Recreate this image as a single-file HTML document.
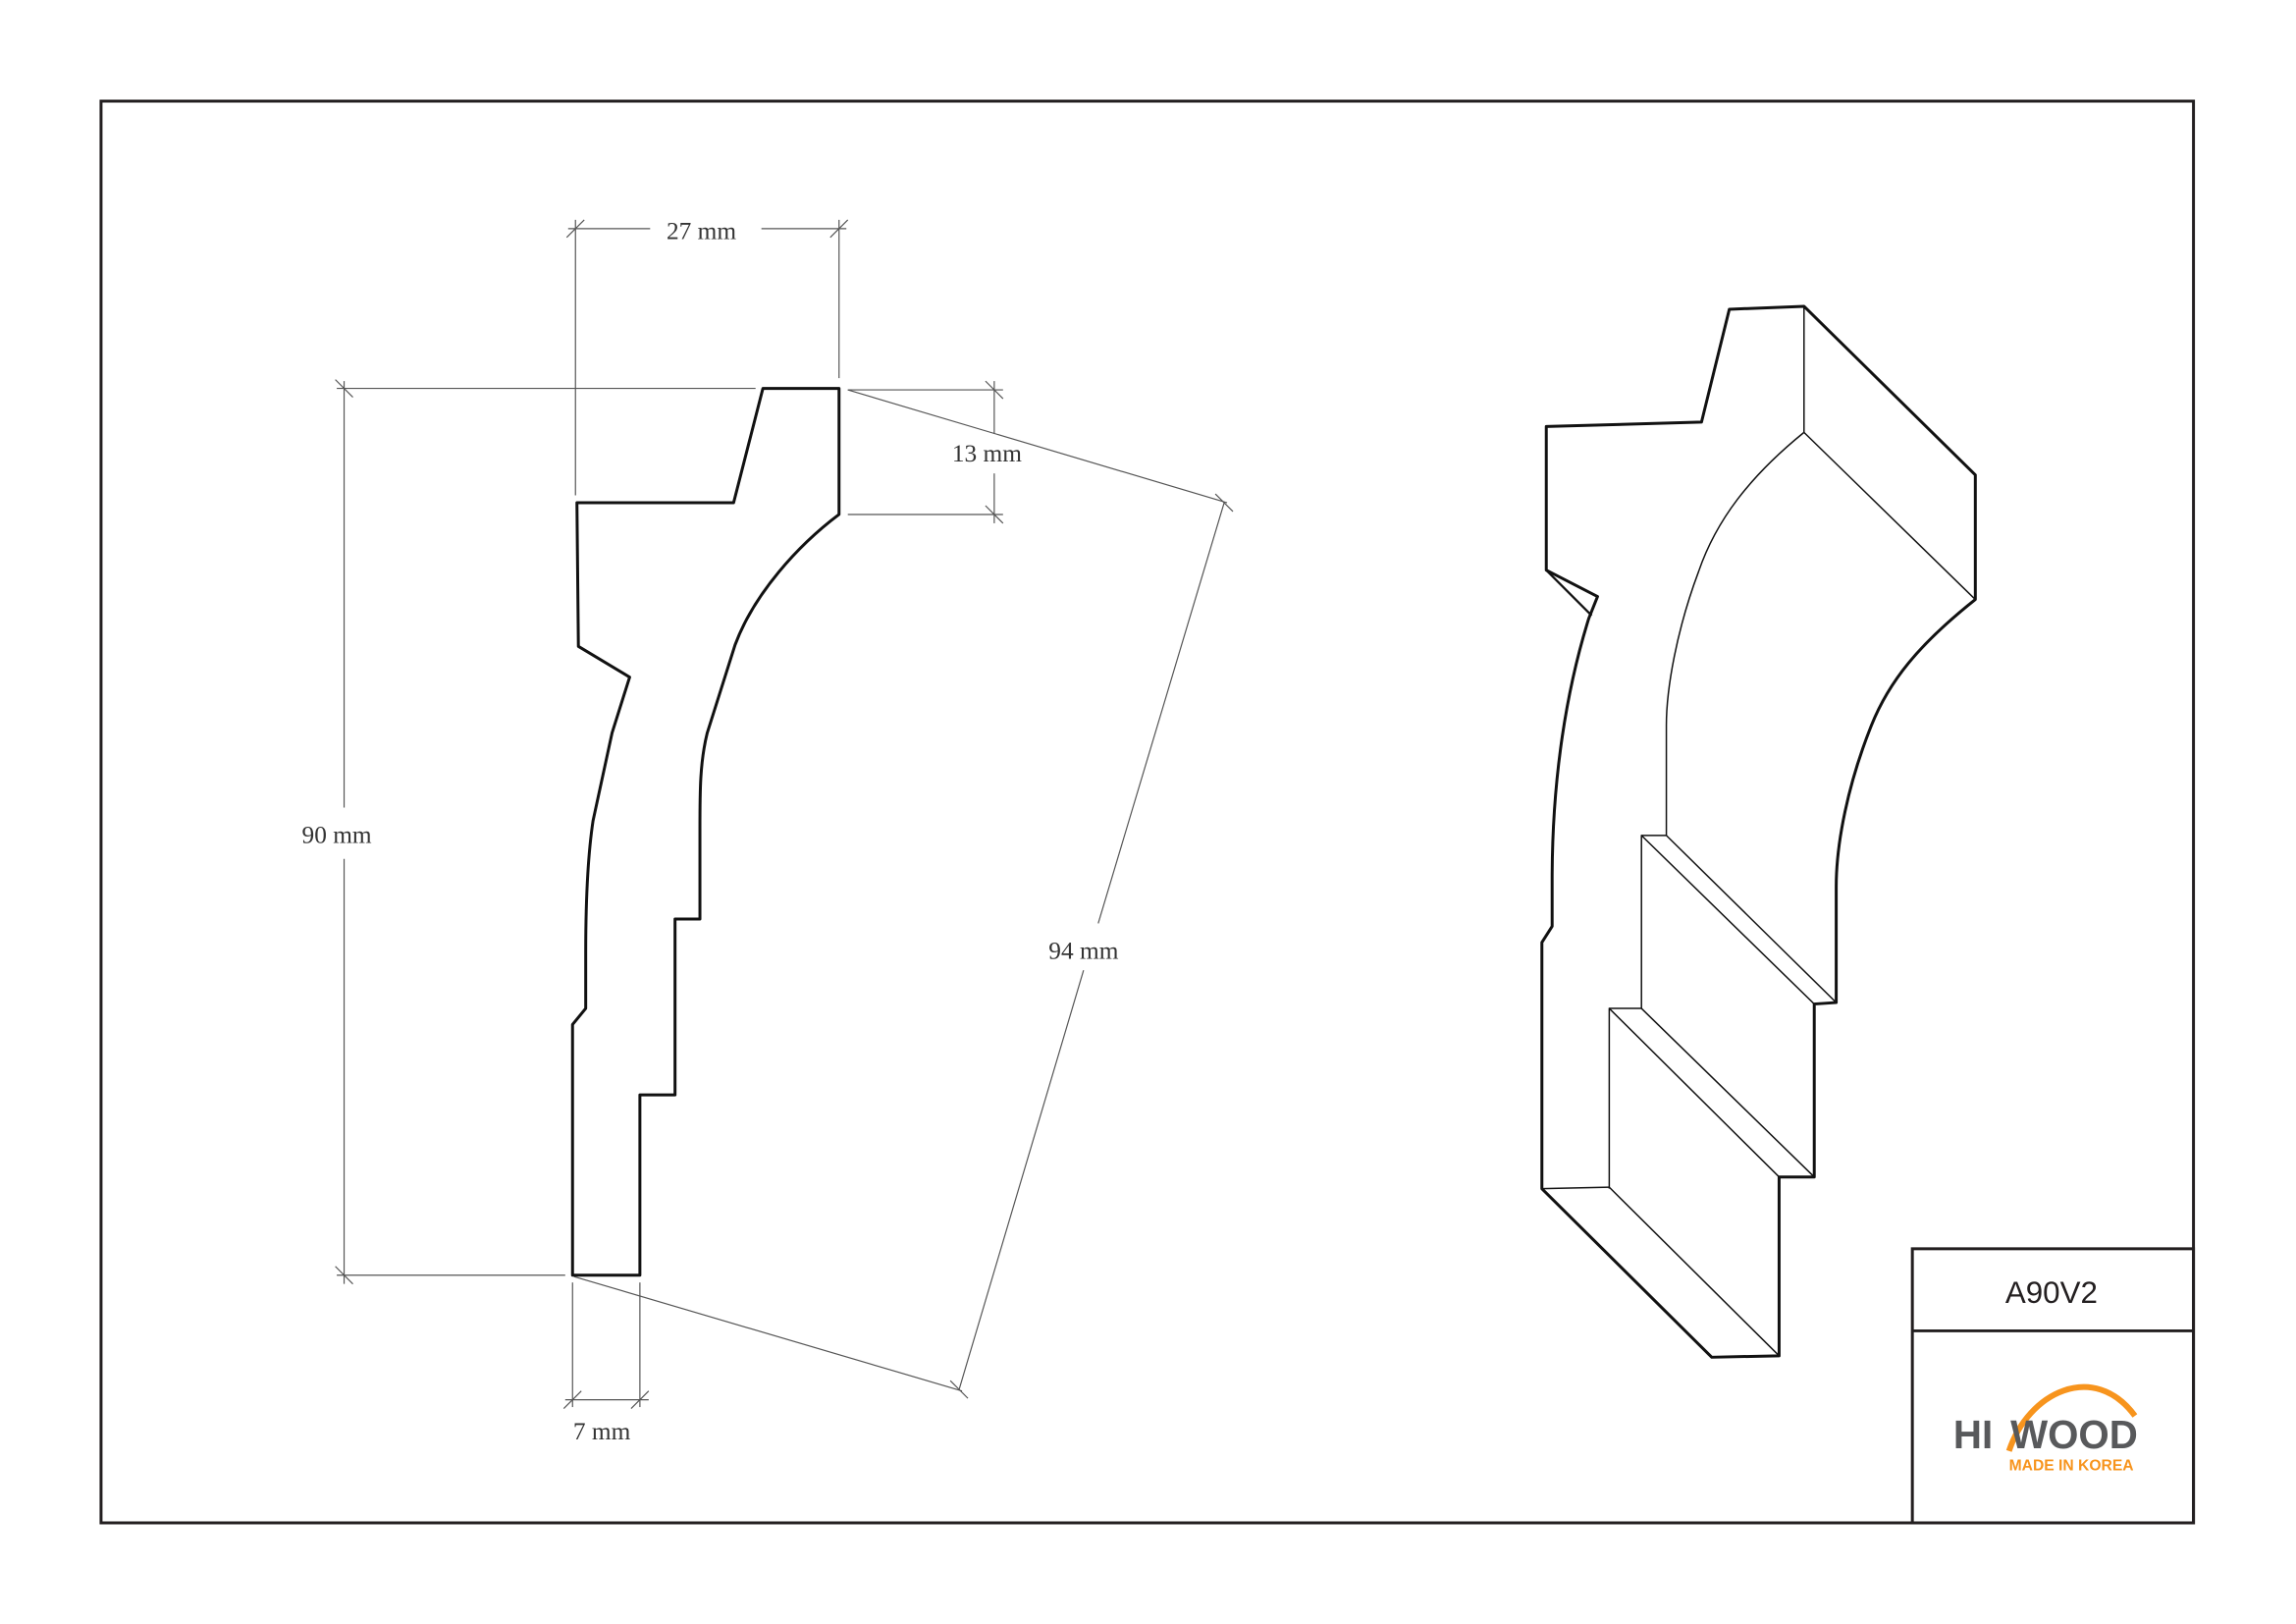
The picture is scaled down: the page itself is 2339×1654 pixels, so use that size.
<!DOCTYPE html>
<html><head><style>html,body{margin:0;padding:0;background:#fff}svg{display:block}</style></head>
<body>
<svg width="2339" height="1654" viewBox="0 0 1568 1108" preserveAspectRatio="none" xmlns="http://www.w3.org/2000/svg">
<rect x="0" y="0" width="1568" height="1108" fill="#fff"/>
<rect x="69" y="69" width="1429" height="970" fill="none" stroke="#231f20" stroke-width="2"/>
<!-- title block -->
<rect x="1306" y="852" width="192" height="187" fill="none" stroke="#231f20" stroke-width="2"/>
<line x1="1306" y1="908" x2="1498" y2="908" stroke="#231f20" stroke-width="2"/>
<text x="1401" y="889" font-family="Liberation Sans, sans-serif" font-size="21" fill="#231f20" text-anchor="middle">A90V2</text>
<path d="M1372,990 C1385,950 1430,928 1458,966" fill="none" stroke="#f7941d" stroke-width="4"/>
<text x="1334" y="988" font-family="Liberation Sans, sans-serif" font-weight="bold" font-size="27" fill="#58595b">HI</text>
<text x="1373" y="988" font-family="Liberation Sans, sans-serif" font-weight="bold" font-size="27" fill="#58595b">WOOD</text>
<text x="1372" y="1003" font-family="Liberation Sans, sans-serif" font-weight="bold" font-size="10.5" fill="#f7941d">MADE IN KOREA</text>

<!-- dimension lines -->
<g stroke="#555" stroke-width="0.8" fill="none">
<line x1="388" y1="156" x2="444" y2="156"/><line x1="520" y1="156" x2="578" y2="156"/>
<line x1="393" y1="150" x2="393" y2="338"/><line x1="573" y1="150" x2="573" y2="258"/>
<line x1="235" y1="260" x2="235" y2="551"/><line x1="235" y1="586" x2="235" y2="876"/>
<line x1="230" y1="265" x2="516" y2="265"/><line x1="230" y1="870" x2="386" y2="870"/>
<line x1="579" y1="266" x2="685" y2="266"/><line x1="579" y1="351" x2="685" y2="351"/>
<line x1="679" y1="260" x2="679" y2="296"/><line x1="679" y1="323" x2="679" y2="357"/>
<line x1="579" y1="266" x2="838" y2="343"/><line x1="392" y1="871" x2="657" y2="949"/>
<line x1="836" y1="343" x2="750" y2="630"/><line x1="740" y1="662" x2="655" y2="948"/>
<line x1="391" y1="875" x2="391" y2="960"/><line x1="437" y1="875" x2="437" y2="960"/>
<line x1="386" y1="955" x2="443" y2="955"/>
<!-- ticks -->
<line x1="387" y1="162" x2="399" y2="150"/><line x1="567" y1="162" x2="579" y2="150"/>
<line x1="229" y1="259" x2="241" y2="271"/><line x1="229" y1="864" x2="241" y2="876"/>
<line x1="673" y1="260" x2="685" y2="272"/><line x1="673" y1="345" x2="685" y2="357"/>
<line x1="830" y1="337" x2="842" y2="349"/><line x1="649" y1="942" x2="661" y2="954"/>
<line x1="385" y1="961" x2="397" y2="949"/><line x1="431" y1="961" x2="443" y2="949"/>
</g>
<g font-family="Liberation Serif, serif" font-size="17" fill="#333" text-anchor="middle">
<text x="479" y="163">27 mm</text>
<text x="230" y="575">90 mm</text>
<text x="674" y="315">13 mm</text>
<text x="740" y="654">94 mm</text>
<text x="411" y="982">7 mm</text>
</g>

<!-- left profile -->
<path d="M521,265 L573,265 L573,351 C545,372 515,405 502,440 L483,500 C478,520 478,540 478,565 L478,627 L461,627 L461,747 L437,747 L437,870 L391,870 L391,699 L400,688 L400,650 C400,610 402,580 405,560 L418,500 L430,462 L395,441 L394,343 L501,343 Z" fill="none" stroke="#111" stroke-width="2" stroke-linejoin="round"/>

<!-- right isometric -->
<g fill="none" stroke="#111" stroke-linejoin="round">
<path d="M1181,211 L1232,209 L1349,324 L1349,409 C1310,440 1290,465 1278,495 C1262,535 1254,575 1254,605 L1254,684 L1239,685 L1239,803 L1215,803 L1215,925 L1169,926 L1053,811 L1053,643 L1060,632 L1060,600 C1060,530 1070,470 1085,422 L1091,407 L1056,389 L1056,291 L1162,288 Z" stroke-width="2"/>
<line x1="1056" y1="389" x2="1087" y2="420" stroke-width="1.5"/>
<g stroke-width="1">
<line x1="1232" y1="209" x2="1232" y2="295"/>
<line x1="1232" y1="295" x2="1349" y2="409"/>
<path d="M1232,295 C1195,325 1172,355 1160,390 C1145,430 1138,470 1138,495 L1138,570"/>
<path d="M1121,688 L1121,570 L1138,570 L1254,684"/>
<line x1="1121" y1="570" x2="1239" y2="685"/>
<path d="M1099,811 L1099,688 L1121,688 L1239,803"/>
<line x1="1099" y1="688" x2="1215" y2="803"/>
<line x1="1053" y1="811" x2="1099" y2="810"/>
<line x1="1099" y1="810" x2="1215" y2="925"/>
</g>
</g>
</svg>
</body></html>
